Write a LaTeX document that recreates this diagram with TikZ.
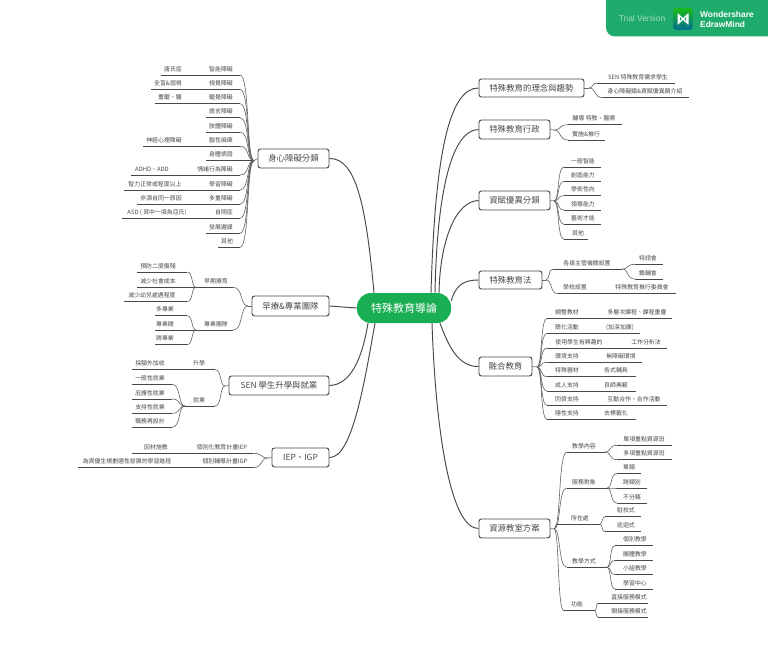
\documentclass[tikz,border=0pt]{standalone}
\usepackage{fontspec}
\setmainfont{Noto Sans CJK TC}
\newfontfamily\bannerfont{Liberation Sans}
\usetikzlibrary{calc}
\definecolor{ink}{HTML}{484848}
\definecolor{brandgreen}{HTML}{1AAE52}
\definecolor{bannergreen}{HTML}{1FAB6B}
\tikzset{
  x=1pt,y=-1pt,
  txt/.style={inner sep=0pt,text=ink,font=\fontsize{5.9}{7}\selectfont},
  leafline/.style={draw=ink,line width=0.75pt},
  conn/.style={draw=ink!85,line width=0.6pt},
  mainconn/.style={draw=ink,line width=0.95pt},
  topicbox/.style={draw=ink,line width=0.95pt,rounded corners=2.5pt,fill=white,inner sep=0pt,text=ink,font=\fontsize{8.4}{10}\selectfont},
}
% name, x1, x2, y, text centre x, text
\newcommand\leaf[6]{%
  \node[txt] (#1) at (#5,#4-6) {#6};
  \coordinate (#1-l) at (#2,#4);
  \coordinate (#1-r) at (#3,#4);
  \draw[leafline] (#1-l) -- (#1-r);}
% extra text on a line: name, centre x, y, text
\newcommand\extra[4]{\node[txt] (#1) at (#2,#3-6) {#4};}
% S curve from a to b
\newcommand\lnk[2]{\draw[conn] (#1) .. controls ($(#1)!.7!(#2|-#1)$) and ($(#1|-#2)!.45!(#2)$) .. (#2);}
\newcommand\tbox[6]{\node[topicbox,minimum width={(#3-#2)*1pt},minimum height={(#5-#4)*1pt}] (#1) at ({(#2+#3)/2},{(#4+#5)/2}) {#6};}
\begin{document}
\begin{tikzpicture}
\useasboundingbox (0,0) rectangle (768,650);
\fill[white] (0,0) rectangle (768,650);
% banner
\fill[bannergreen] (606,0) [rounded corners=9pt] -- (606,36.5) [sharp corners] -- (768,36.5) -- (768,0) -- cycle;
\node[inner sep=0pt,text=white!60!bannergreen,font=\bannerfont\fontsize{8.4}{9}\selectfont] (trial) at (642,18.5) {Trial Version};
\shade[left color=green!70!black!90!white,right color=teal!85!blue,rounded corners=2.5pt,shading angle=0] (673.5,8) rectangle (692.5,30);
\fill[white,rounded corners=0.6pt] (677.5,13) -- (683,18) -- (688.5,13) -- (688.5,25) -- (683,20) -- (677.5,25) -- cycle;
\fill[bannergreen!70!teal] (680,17.2) -- (681.7,19) -- (680,20.8) -- cycle;
\fill[bannergreen!70!teal] (686,17.2) -- (684.3,19) -- (686,20.8) -- cycle;
\node[anchor=west,inner sep=0pt,text=white,font=\bannerfont\bfseries\fontsize{8.4}{9}\selectfont] (ws) at (700,14) {Wondershare};
\node[anchor=west,inner sep=0pt,text=white,font=\bannerfont\bfseries\fontsize{8.4}{9}\selectfont] (em) at (700,24) {EdrawMind};

% root
\node[fill=brandgreen,rounded corners=14pt,minimum width=94pt,minimum height=30pt,inner sep=0pt,text=white,font=\fontsize{11}{13}\selectfont] (root) at (404,308) {特殊教育導論};

% topics
\tbox{ta}{258}{329}{149}{168}{身心障礙分類}
\tbox{tb}{252}{329}{296}{316}{早療\&專業團隊}
\tbox{tc}{229}{329}{376}{395}{SEN 學生升學與就業}
\tbox{td}{272}{329}{448}{467}{IEP、IGP}
\tbox{te}{479}{584}{79}{97}{特殊教育的理念與趨勢}
\tbox{tf}{479}{550}{120}{139}{特殊教育行政}
\tbox{tg}{479}{550}{191}{210}{資賦優異分類}
\tbox{th}{479}{542}{271}{289}{特殊教育法}
\tbox{ti}{479}{532}{357}{376}{融合教育}
\tbox{tj}{479}{550}{519}{538}{資源教室方案}

% main connectors
\draw[mainconn] (ta.east) .. controls (356,158) and (366,205) .. ([xshift=-30pt]root.north);
\draw[mainconn] (tb.east) -- (root.west);
\draw[mainconn] (tc.east) .. controls (350,385) and (362,360) .. ([xshift=-36pt]root.south);
\draw[mainconn] (td.east) .. controls (352,458) and (364,385) .. ([xshift=-29pt]root.south);
\draw[mainconn] (te.west) .. controls (450,88) and (435,150) .. ([xshift=27pt]root.north);
\draw[mainconn] (tf.west) .. controls (452,130) and (437,190) .. ([xshift=31pt]root.north);
\draw[mainconn] (tg.west) .. controls (456,201) and (440,240) .. ([xshift=35pt]root.north);
\draw[mainconn] (th.west) .. controls (465,280) and (456,284) .. ([yshift=7pt]root.east);
\draw[mainconn] (ti.west) .. controls (458,367) and (448,345) .. ([xshift=36pt]root.south);
\draw[mainconn] (tj.west) .. controls (452,529) and (436,440) .. ([xshift=28pt]root.south);

% hubs
\coordinate (ha) at (254,160.7);
\coordinate (hb) at (248,306);
\coordinate (hc) at (225,386);
\coordinate (hd) at (268,458);
\coordinate (he) at (589,88);
\coordinate (hf) at (554,130);
\coordinate (hg) at (554,201);
\coordinate (hh) at (546,280);
\coordinate (hi) at (537,367);
\coordinate (hj) at (554,529);
\draw[conn] (ha) -- (ta.west);
\draw[conn] (hb) -- (tb.west);
\draw[conn] (hc) -- (tc.west);
\draw[conn] (hd) -- (td.west);
\draw[conn] (he) -- (te.east);
\draw[conn] (hf) -- (tf.east);
\draw[conn] (hg) -- (tg.east);
\draw[conn] (hh) -- (th.east);
\draw[conn] (hi) -- (ti.east);
\draw[conn] (hj) -- (tj.east);

% 身心障礙分類
\leaf{a1}{161}{240}{75}{221}{智能障礙}\extra{a1x}{173}{75}{唐氏症}
\leaf{a2}{151}{240}{89.3}{221}{視覺障礙}\extra{a2x}{168}{89.3}{全盲\&弱視}
\leaf{a3}{155}{240}{103.7}{221}{聽覺障礙}\extra{a3x}{170}{103.7}{重聽、聾}
\leaf{a4}{206}{240}{117.7}{221}{語言障礙}
\leaf{a5}{206}{240}{132}{221}{肢體障礙}
\leaf{a6}{143}{240}{146.3}{221}{腦性麻痺}\extra{a6x}{164}{146.3}{神經心理障礙}
\leaf{a7}{206}{254}{160.7}{221}{身體病弱}
\leaf{a8}{131}{240}{175}{215}{情緒行為障礙}\extra{a8x}{152}{175}{ADHD、ADD}
\leaf{a9}{124}{240}{190}{221}{學習障礙}\extra{a9x}{155}{190}{智力正常或程度以上}
\leaf{a10}{137}{240}{204.3}{221}{多重障礙}\extra{a10x}{161}{204.3}{非源自同一原因}
\leaf{a11}{122}{240}{218.3}{224}{自閉症}\extra{a11x}{157}{218.3}{ASD ( 其中一項為亞氏)}
\leaf{a12}{206}{240}{233.3}{221}{發展遲緩}
\leaf{a13}{218}{240}{247.3}{227}{其他}
\foreach \n in {1,2,3,4,5,6,8,9,10,11,12,13}{\lnk{a\n-r}{ha}}

% 早療
\leaf{b1}{196}{233}{287.3}{216}{早期療育}
\leaf{b2}{196}{233}{330}{216}{專業團隊}
\lnk{b1-r}{hb}\lnk{b2-r}{hb}
\leaf{b3}{137}{187}{272}{158}{預防二度傷殘}
\leaf{b4}{137}{196}{287.3}{158}{減少社會成本}
\leaf{b5}{124}{187}{301.7}{152}{減少幼兒處遇程度}
\lnk{b3-r}{b1-l}\lnk{b5-r}{b1-l}
\leaf{b6}{155}{187}{315.7}{165}{多專業}
\leaf{b7}{155}{196}{330}{165}{專業間}
\leaf{b8}{155}{187}{344.7}{165}{跨專業}
\lnk{b6-r}{b2-l}\lnk{b8-r}{b2-l}

% SEN
\leaf{c1}{132}{215}{369.7}{199}{升學}\extra{c1x}{150}{369.7}{採額外加收}
\leaf{c2}{185}{215}{406}{199}{就業}
\lnk{c1-r}{hc}\lnk{c2-r}{hc}
\leaf{c3}{132}{172}{384.3}{150}{一般性就業}
\leaf{c4}{132}{172}{399}{150}{庇護性就業}
\leaf{c5}{132}{172}{413.3}{150}{支持性就業}
\leaf{c6}{132}{172}{427.3}{150}{職務再設計}
\foreach \n in {3,4,5,6}{\lnk{c\n-r}{c2-l}}

% IEP
\leaf{d1}{132}{253}{453.3}{222}{個別化教育計畫IEP}\extra{d1x}{156}{453.3}{因材施教}
\leaf{d2}{78}{253}{467.7}{225}{個別輔導計畫IGP}\extra{d2x}{127}{467.7}{為資優生規劃適性發展的學習進程}
\lnk{d1-r}{hd}\lnk{d2-r}{hd}

% 理念
\leaf{e1}{597}{675}{83}{638}{SEN 特殊教育需求學生}
\leaf{e2}{603}{689}{97.7}{645}{身心障礙類\&資賦優異類介紹}
\lnk{e1-l}{he}\lnk{e2-l}{he}

% 行政
\leaf{f1}{568}{622}{124.7}{594}{輔導 特教、醫療}
\leaf{f2}{568}{605}{140}{586}{實施\&推行}
\lnk{f1-l}{hf}\lnk{f2-l}{hf}

% 資賦
\leaf{g1}{564}{601}{167}{583}{一般智能}
\leaf{g2}{564}{601}{181.3}{583}{創造能力}
\leaf{g3}{564}{601}{195.7}{583}{學術性向}
\leaf{g4}{564}{601}{210}{583}{領導能力}
\leaf{g5}{564}{601}{224.3}{583}{藝術才能}
\leaf{g6}{564}{588}{239.3}{578}{其他}
\foreach \n in {1,...,6}{\lnk{g\n-l}{hg}}

% 法
\leaf{h1}{553}{622}{269}{587}{各級主管機關設置}
\leaf{h2}{558}{676}{293.7}{575}{學校設置}\extra{h2x}{642}{293.7}{特殊教育推行委員會}
\lnk{h1-l}{hh}\lnk{h2-l}{hh}
\leaf{h3}{635}{663}{264.3}{648}{特諮會}
\leaf{h4}{635}{663}{279}{648}{鑑輔會}
\lnk{h3-l}{h1-r}\lnk{h4-l}{h1-r}

% 融合
\leaf{i1}{547}{672}{318.7}{567}{調整教材}\extra{i1x}{637}{318.7}{多層次課程、課程重疊}
\leaf{i2}{547}{640}{333.3}{567}{簡化活動}\extra{i2x}{620}{333.3}{(加深加廣)}
\leaf{i3}{547}{667}{348}{579}{使用學生有興趣的}\extra{i3x}{646}{348}{工作分析法}
\leaf{i4}{547}{642}{362.3}{567}{環境支持}\extra{i4x}{621}{362.3}{無障礙環境}
\leaf{i5}{547}{636}{376.7}{567}{特殊器材}\extra{i5x}{616}{376.7}{各式輔具}
\leaf{i6}{547}{636}{391}{567}{成人支持}\extra{i6x}{616}{391}{良師典範}
\leaf{i7}{547}{667}{405.3}{567}{同儕支持}\extra{i7x}{634}{405.3}{互動合作、合作活動}
\leaf{i8}{547}{636}{419.3}{567}{隱性支持}\extra{i8x}{616}{419.3}{去標籤化}
\foreach \n in {1,...,8}{\lnk{i\n-l}{hi}}

% 資源
\leaf{j1}{567}{605}{452}{584}{教學內容}
\leaf{j2}{567}{607}{488}{584}{服務對象}
\leaf{j3}{557}{600}{524.3}{580}{所在處}
\leaf{j4}{567}{607}{567.3}{584}{教學方式}
\leaf{j5}{564}{595}{610.7}{577}{功能}
\foreach \n in {1,...,5}{\lnk{j\n-l}{hj}}
\leaf{k1}{617}{672}{445.3}{644}{單項重點資源班}
\leaf{k2}{617}{672}{459.7}{644}{多項重點資源班}
\lnk{k1-l}{j1-r}\lnk{k2-l}{j1-r}
\leaf{k3}{617}{641}{473.7}{629}{單類}
\leaf{k4}{617}{647}{488}{632}{跨類別}
\leaf{k5}{617}{647}{503}{632}{不分類}
\lnk{k3-l}{j2-r}\lnk{k4-l}{j2-r}\lnk{k5-l}{j2-r}
\leaf{k6}{605}{641}{516.7}{626}{駐校式}
\leaf{k7}{605}{641}{531.7}{626}{巡迴式}
\lnk{k6-l}{j3-r}\lnk{k7-l}{j3-r}
\leaf{k8}{615}{653}{545.7}{635}{個別教學}
\leaf{k9}{615}{653}{560.3}{635}{團體教學}
\leaf{k10}{615}{653}{574.7}{635}{小組教學}
\leaf{k11}{615}{653}{589}{635}{學習中心}
\foreach \n in {8,9,10,11}{\lnk{k\n-l}{j4-r}}
\leaf{k12}{598}{648}{603}{629}{直接服務模式}
\leaf{k13}{598}{648}{617.3}{629}{間接服務模式}
\lnk{k12-l}{j5-r}\lnk{k13-l}{j5-r}
\end{tikzpicture}
\end{document}
